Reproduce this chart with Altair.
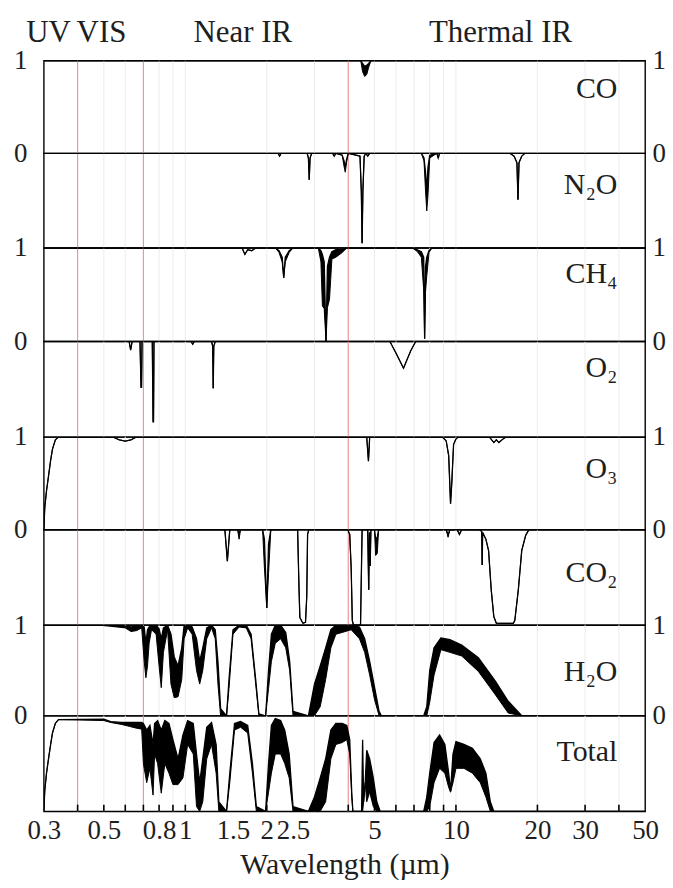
import altair as alt
import pandas as pd

FONT = "Liberation Serif"

# ---------------- data (wavelength in µm, transmission 0..1) ----------------
co_wl = [0.30, 4.45, 4.52, 4.60, 4.68, 4.76, 4.85, 50.0]
co_hi = [1, 1, 0.97, 0.94, 0.95, 0.97, 1, 1]
co_lo = [1, 1, 0.88, 0.83, 0.85, 0.93, 1, 1]

n2o_wl = [0.30, 2.20, 2.23, 2.26, 2.82, 2.85, 2.87, 2.89, 2.93, 3.50, 3.55, 3.60,
          3.80, 3.86, 3.90, 3.94, 4.00, 4.42, 4.47, 4.50, 4.53, 4.58, 4.65, 4.72, 4.80,
          7.45, 7.62, 7.72, 7.80, 7.88, 8.00, 8.50, 8.60, 8.70,
          15.8, 16.4, 16.8, 16.95, 17.1, 17.5, 18.0, 50.0]
n2o_hi = [1, 1, 0.97, 1, 1, 0.95, 0.72, 0.95, 1, 1, 0.97, 1,
          0.98, 0.92, 0.85, 0.93, 1, 0.97, 0.6, 0.05, 0.6, 0.97, 1, 0.97, 1,
          1, 0.95, 0.8, 0.6, 0.85, 0.98, 1, 0.95, 1,
          1, 0.97, 0.9, 0.51, 0.9, 0.97, 1, 1]
n2o_lo = [1, 1, 0.97, 1, 1, 0.95, 0.72, 0.95, 1, 1, 0.97, 1,
          0.98, 0.86, 0.8, 0.9, 1, 0.97, 0.6, 0.05, 0.6, 0.97, 1, 0.97, 1,
          1, 0.92, 0.6, 0.39, 0.55, 0.95, 1, 0.95, 1,
          1, 0.97, 0.9, 0.51, 0.9, 0.97, 1, 1]

ch4_wl = [0.30, 1.62, 1.66, 1.70, 1.76, 1.82, 2.15, 2.22, 2.28, 2.31, 2.34, 2.42, 2.50,
          3.10, 3.17, 3.21, 3.26, 3.31, 3.35, 3.41, 3.48, 3.60, 3.80, 3.95,
          6.9, 7.2, 7.45, 7.6, 7.66, 7.72, 7.8, 7.95, 8.15, 50.0]
ch4_hi = [1, 1, 0.93, 0.98, 0.97, 1, 1, 0.97, 0.9, 0.68, 0.9, 0.97, 1,
          1, 0.97, 0.93, 0.85, 0.0, 0.8, 0.9, 0.96, 0.98, 0.98, 1,
          1, 0.98, 0.96, 0.9, 0.03, 0.8, 0.9, 0.97, 1, 1]
ch4_lo = [1, 1, 0.93, 0.98, 0.97, 1, 1, 0.95, 0.85, 0.68, 0.85, 0.95, 1,
          1, 0.85, 0.38, 0.35, 0.0, 0.36, 0.45, 0.88, 0.9, 0.95, 1,
          1, 0.96, 0.9, 0.55, 0.03, 0.53, 0.7, 0.95, 1, 1]

o2_wl = [0.30, 0.62, 0.628, 0.636, 0.68, 0.686, 0.689, 0.692, 0.755, 0.760, 0.763, 0.766,
         1.05, 1.065, 1.08, 1.25, 1.262, 1.268, 1.274, 1.29,
         5.7, 6.0, 6.4, 6.8, 7.1, 50.0]
o2_t = [1, 1, 0.91, 1, 1, 0.52, 0.52, 1, 1, 0.16, 0.16, 1,
        1, 0.97, 1, 1, 0.95, 0.51, 0.95, 1,
        1, 0.88, 0.72, 0.9, 1, 1]

o3_wl = [0.300, 0.3025, 0.307, 0.313, 0.318, 0.323, 0.331, 0.34,
         0.54, 0.57, 0.60, 0.63, 0.66, 4.68, 4.75, 4.80,
         8.9, 9.2, 9.4, 9.55, 9.65, 9.8, 10.0, 10.2,
         13.3, 13.8, 14.1, 14.4, 14.8, 15.3, 50.0]
o3_t = [0.0, 0.24, 0.42, 0.6, 0.75, 0.87, 0.97, 1,
        1, 0.97, 0.955, 0.97, 1, 1, 0.74, 1,
        1, 0.96, 0.8, 0.28, 0.5, 0.92, 0.98, 1,
        1, 0.94, 0.97, 0.94, 0.97, 1, 1]

co2_wl = [0.30, 1.40, 1.43, 1.46, 1.56, 1.58, 1.60, 1.93, 1.96, 2.00, 2.03, 2.07,
          2.60, 2.63, 2.65, 2.72, 2.78, 2.81, 2.83, 2.86,
          3.98, 4.05, 4.10, 4.14, 4.18, 4.44, 4.47, 4.50,
          4.72, 4.76, 4.79, 4.82, 4.85, 5.00, 5.05, 5.12, 5.18,
          9.2, 9.35, 9.5, 10.1, 10.3, 10.5,
          12.2, 12.45, 12.5, 12.55, 12.9, 13.2, 13.5, 13.8, 14.1,
          16.3, 16.5, 17.0, 17.5, 18.1, 18.6, 50.0]
co2_hi = [1, 1, 0.67, 1, 1, 0.96, 1, 1, 0.9, 0.18, 0.85, 1,
          1, 0.4, 0.08, 0.02, 0.03, 0.3, 0.95, 1,
          1, 0.95, 0.6, 0.05, 0.0, 0.0, 0.5, 1,
          1, 0.37, 0.97, 0.62, 1, 1, 0.9, 0.92, 1,
          1, 0.95, 1, 1, 0.95, 1,
          1, 0.98, 0.63, 0.97, 0.9, 0.78, 0.37, 0.09, 0.02,
          0.02, 0.05, 0.37, 0.78, 0.94, 1, 1]
co2_lo = [1, 1, 0.67, 1, 1, 0.9, 1, 1, 0.6, 0.18, 0.54, 1,
          1, 0.4, 0.08, 0.02, 0.03, 0.3, 0.95, 1,
          1, 0.95, 0.6, 0.05, 0.0, 0.0, 0.5, 1,
          1, 0.37, 0.97, 0.62, 1, 1, 0.73, 0.75, 1,
          1, 0.92, 1, 1, 0.95, 1,
          1, 0.98, 0.63, 0.97, 0.9, 0.78, 0.37, 0.09, 0.02,
          0.02, 0.05, 0.37, 0.78, 0.94, 1, 1]

h2o_wl = [0.30, 0.48, 0.52, 0.56, 0.60, 0.63, 0.66, 0.69, 0.705, 0.715,
          0.725, 0.735, 0.75, 0.78, 0.80, 0.815, 0.83, 0.86, 0.885, 0.91,
          0.94, 0.97, 0.99, 1.02, 1.06, 1.10, 1.13, 1.16, 1.20, 1.25,
          1.29, 1.32, 1.35, 1.42, 1.45, 1.50, 1.58, 1.68, 1.75, 1.82,
          1.87, 1.98, 2.03, 2.08, 2.15, 2.25, 2.35, 2.43, 2.50, 2.85,
          3.00, 3.15, 3.30, 3.45, 3.60, 3.80, 4.10, 4.40, 4.60, 4.80,
          5.00, 5.20, 5.30, 7.60, 7.80, 8.00, 8.30, 8.80, 9.50, 10.5,
          12.1, 14.0, 15.6, 17.5, 50.0]
h2o_hi = [1, 1, 1, 0.99, 0.99, 0.98, 0.99, 1, 0.98, 0.8,
          0.95, 0.98, 1, 1, 0.96, 0.85, 0.97, 1, 0.9, 0.65,
          0.55, 0.75, 1, 1, 0.98, 0.85, 0.6, 0.75, 0.97, 1,
          0.95, 0.6, 0.08, 0.0, 0.4, 0.95, 1, 1, 0.9, 0.4,
          0.02, 0.0, 0.5, 0.9, 1, 1, 0.92, 0.6, 0.05, 0.0,
          0.35, 0.55, 0.75, 0.95, 1, 1, 1, 0.98, 0.85, 0.6,
          0.32, 0.05, 0.0, 0.0, 0.1, 0.5, 0.75, 0.86, 0.84, 0.78,
          0.64, 0.38, 0.16, 0.0, 0.0]
h2o_lo = [1, 1, 0.99, 0.98, 0.97, 0.93, 0.94, 0.97, 0.6, 0.42,
          0.55, 0.8, 0.95, 0.9, 0.55, 0.31, 0.7, 0.95, 0.35, 0.2,
          0.21, 0.4, 0.85, 0.97, 0.9, 0.5, 0.35, 0.5, 0.85, 0.97,
          0.85, 0.35, 0.0, 0.0, 0.3, 0.9, 0.98, 0.97, 0.85, 0.35,
          0.0, 0.0, 0.3, 0.6, 0.8, 0.85, 0.75, 0.5, 0.0, 0.0,
          0.0, 0.1, 0.4, 0.75, 0.9, 0.92, 0.95, 0.85, 0.7, 0.45,
          0.18, 0.0, 0.0, 0.0, 0.0, 0.15, 0.45, 0.73, 0.7, 0.66,
          0.49, 0.23, 0.03, 0.0, 0.0]

tot_wl = [0.300, 0.3025, 0.307, 0.313, 0.318, 0.323, 0.331, 0.34, 0.50, 0.53,
          0.58, 0.62, 0.66, 0.69, 0.70, 0.72, 0.74, 0.76, 0.77, 0.79,
          0.815, 0.84, 0.87, 0.90, 0.94, 0.98, 1.02, 1.07, 1.10, 1.13,
          1.16, 1.20, 1.25, 1.30, 1.33, 1.42, 1.46, 1.52, 1.60, 1.70,
          1.77, 1.83, 1.98, 2.03, 2.08, 2.15, 2.25, 2.33, 2.42, 2.50,
          2.85, 3.00, 3.15, 3.30, 3.45, 3.60, 3.80, 3.95, 4.05, 4.12,
          4.16, 4.48, 4.52, 4.56, 4.62, 4.68, 4.80, 4.95, 5.10, 5.25,
          7.60, 7.80, 8.00, 8.30, 8.70, 9.10, 9.40, 9.55, 9.75, 10.0,
          10.7, 11.5, 12.3, 12.9, 13.4, 13.8, 50.0]
tot_hi = [0.0, 0.22, 0.4, 0.57, 0.7, 0.82, 0.92, 0.96, 0.965, 0.94,
          0.93, 0.93, 0.93, 0.93, 0.92, 0.85, 0.9, 0.7, 0.92, 0.95,
          0.85, 0.95, 0.92, 0.75, 0.55, 0.8, 0.95, 0.92, 0.6, 0.3,
          0.55, 0.88, 0.93, 0.7, 0.1, 0.0, 0.4, 0.92, 0.94, 0.9,
          0.5, 0.05, 0.0, 0.5, 0.9, 0.97, 0.95, 0.85, 0.6, 0.05,
          0.0, 0.15, 0.35, 0.55, 0.85, 0.92, 0.92, 0.9, 0.75, 0.2,
          0.0, 0.0, 0.75, 0.1, 0.3, 0.64, 0.55, 0.35, 0.1, 0.0,
          0.0, 0.15, 0.4, 0.72, 0.8, 0.7, 0.4, 0.21, 0.6, 0.73,
          0.7, 0.66, 0.55, 0.4, 0.1, 0.0, 0.0]
tot_lo = [0.0, 0.22, 0.4, 0.57, 0.7, 0.82, 0.92, 0.96, 0.95, 0.93,
          0.91, 0.89, 0.87, 0.86, 0.5, 0.3, 0.45, 0.17, 0.6, 0.5,
          0.19, 0.5, 0.4, 0.28, 0.28, 0.35, 0.7, 0.6, 0.05, 0.0,
          0.1, 0.55, 0.7, 0.4, 0.0, 0.0, 0.3, 0.85, 0.88, 0.82,
          0.4, 0.0, 0.0, 0.2, 0.4, 0.6, 0.6, 0.5, 0.35, 0.0,
          0.0, 0.0, 0.0, 0.1, 0.55, 0.7, 0.72, 0.75, 0.6, 0.15,
          0.0, 0.0, 0.0, 0.1, 0.3, 0.1, 0.2, 0.05, 0.0, 0.0,
          0.0, 0.0, 0.05, 0.3, 0.45, 0.4, 0.25, 0.2, 0.3, 0.45,
          0.45, 0.4, 0.3, 0.15, 0.0, 0.0, 0.0]

gas_names = ["CO", "N₂O", "CH₄", "O₂", "O₃", "CO₂", "H₂O", "Total"]
gas_label_y = [0.69, 0.66, 0.72, 0.72, 0.65, 0.55, 0.48, 0.62]
gas_label_wl = 39.5

region_names = ["UV", "VIS", "Near IR", "Thermal IR"]
region_wl = [0.312, 0.49, 1.63, 14.6]
region_y = 1.2

red_wl = [0.4, 0.7, 4.0]
grid_wl = [0.4, 0.5, 0.6, 0.7, 0.8, 0.9, 1, 2, 3, 4, 5, 6, 7, 8, 9, 10, 20, 30, 40]
tick_wl = [0.4, 0.5, 0.6, 0.7, 0.8, 0.9, 1, 2, 3, 4, 5, 6, 7, 8, 9, 10, 20, 30, 40]
label_wl = [0.3, 0.5, 0.8, 1, 1.5, 2, 2.5, 5, 10, 20, 30, 50]

panel_heights = [93, 95, 94, 96, 93, 96, 91, 96]
labelled = [True, False, True, False, True, False, True, False]

series = [
    (co_wl, co_hi, co_lo), (n2o_wl, n2o_hi, n2o_lo), (ch4_wl, ch4_hi, ch4_lo),
    (o2_wl, o2_t, o2_t), (o3_wl, o3_t, o3_t), (co2_wl, co2_hi, co2_lo),
    (h2o_wl, h2o_hi, h2o_lo), (tot_wl, tot_hi, tot_lo),
]

# ---------------- chart ----------------
xscale = alt.Scale(type="log", domain=[0.3, 50], nice=False)
yscale = alt.Scale(domain=[0, 1], nice=False, zero=False)
TXT = "#1e1e1e"


def y_axis(orient, pad):
    return alt.Axis(orient=orient, values=[0, 1], labelExpr="format(datum.value, 'd')",
                    ticks=False, domain=False, grid=False, title=None,
                    labelFont=FONT, labelFontSize=27, labelColor=TXT,
                    labelPadding=pad)


panels = []
for i, (wl, hi, lo) in enumerate(series):
    df = pd.DataFrame({"wl": wl, "hi": hi, "lo": lo})
    last = i == len(series) - 1
    if last:
        xaxis = alt.Axis(values=label_wl, labelExpr="format(datum.value, '~g')",
                         ticks=False, domain=False, grid=False,
                         labelFont=FONT, labelFontSize=27, labelColor=TXT,
                         labelPadding=6, labelFlush=False,
                         title="Wavelength (µm)", titleFont=FONT, titleFontSize=30,
                         titleFontWeight="normal", titleColor=TXT, titlePadding=6)
    else:
        xaxis = None
    X = alt.X("wl:Q", scale=xscale, axis=xaxis)

    yl = y_axis("left", 17) if labelled[i] else None
    yr = y_axis("right", 7) if labelled[i] else None

    grid = alt.Chart(pd.DataFrame({"wl": grid_wl})).mark_rule(
        color="#ececec", strokeWidth=1).encode(x=X)
    red = alt.Chart(pd.DataFrame({"wl": red_wl})).mark_rule(
        color="#ef8a8a", strokeWidth=1).encode(x=X)
    area = alt.Chart(df).mark_area(color="black", opacity=1, clip=True).encode(
        x=X, y=alt.Y("lo:Q", scale=yscale, axis=yl), y2="hi:Q")
    line_hi = alt.Chart(df).mark_line(color="black", strokeWidth=1.3, clip=True).encode(
        x=X, y=alt.Y("hi:Q", scale=yscale, axis=yr))
    line_lo = alt.Chart(df).mark_line(color="black", strokeWidth=1.0, clip=True).encode(
        x=X, y=alt.Y("lo:Q", scale=yscale, axis=None))
    lab = alt.Chart(pd.DataFrame({"wl": [gas_label_wl], "t": [gas_label_y[i]],
                                  "name": [gas_names[i]]})).mark_text(
        align="right", baseline="middle", font=FONT, fontSize=30, color=TXT).encode(
        x=X, y=alt.Y("t:Q", scale=yscale, axis=None), text="name:N")
    layers = [grid, red, area, line_hi, line_lo, lab]
    if i == 0:
        reg = alt.Chart(pd.DataFrame({"wl": region_wl, "t": [region_y] * len(region_wl),
                                      "name": region_names})).mark_text(
            align="center", baseline="alphabetic", font=FONT, fontSize=31, color=TXT).encode(
            x=X, y=alt.Y("t:Q", scale=yscale, axis=None), text="name:N")
        layers.append(reg)
    if last:
        ticks = alt.Chart(pd.DataFrame({"wl": tick_wl})).mark_rule(
            color="black", strokeWidth=1.6).encode(
            x=X, y=alt.YDatum(0, scale=yscale, axis=None), y2=alt.Y2Datum(0.07))
        layers.append(ticks)
    p = alt.layer(*layers).resolve_axis(y="independent").properties(
        width=604, height=panel_heights[i])
    panels.append(p)

chart = alt.vconcat(*panels, spacing=0, bounds="flush").properties(
    padding={"left": 12, "top": 14, "right": 6, "bottom": 5},
    background="white",
).configure_view(stroke="black", strokeWidth=1.4)

chart.save("out.html", embed_options={"renderer": "svg", "actions": False})
